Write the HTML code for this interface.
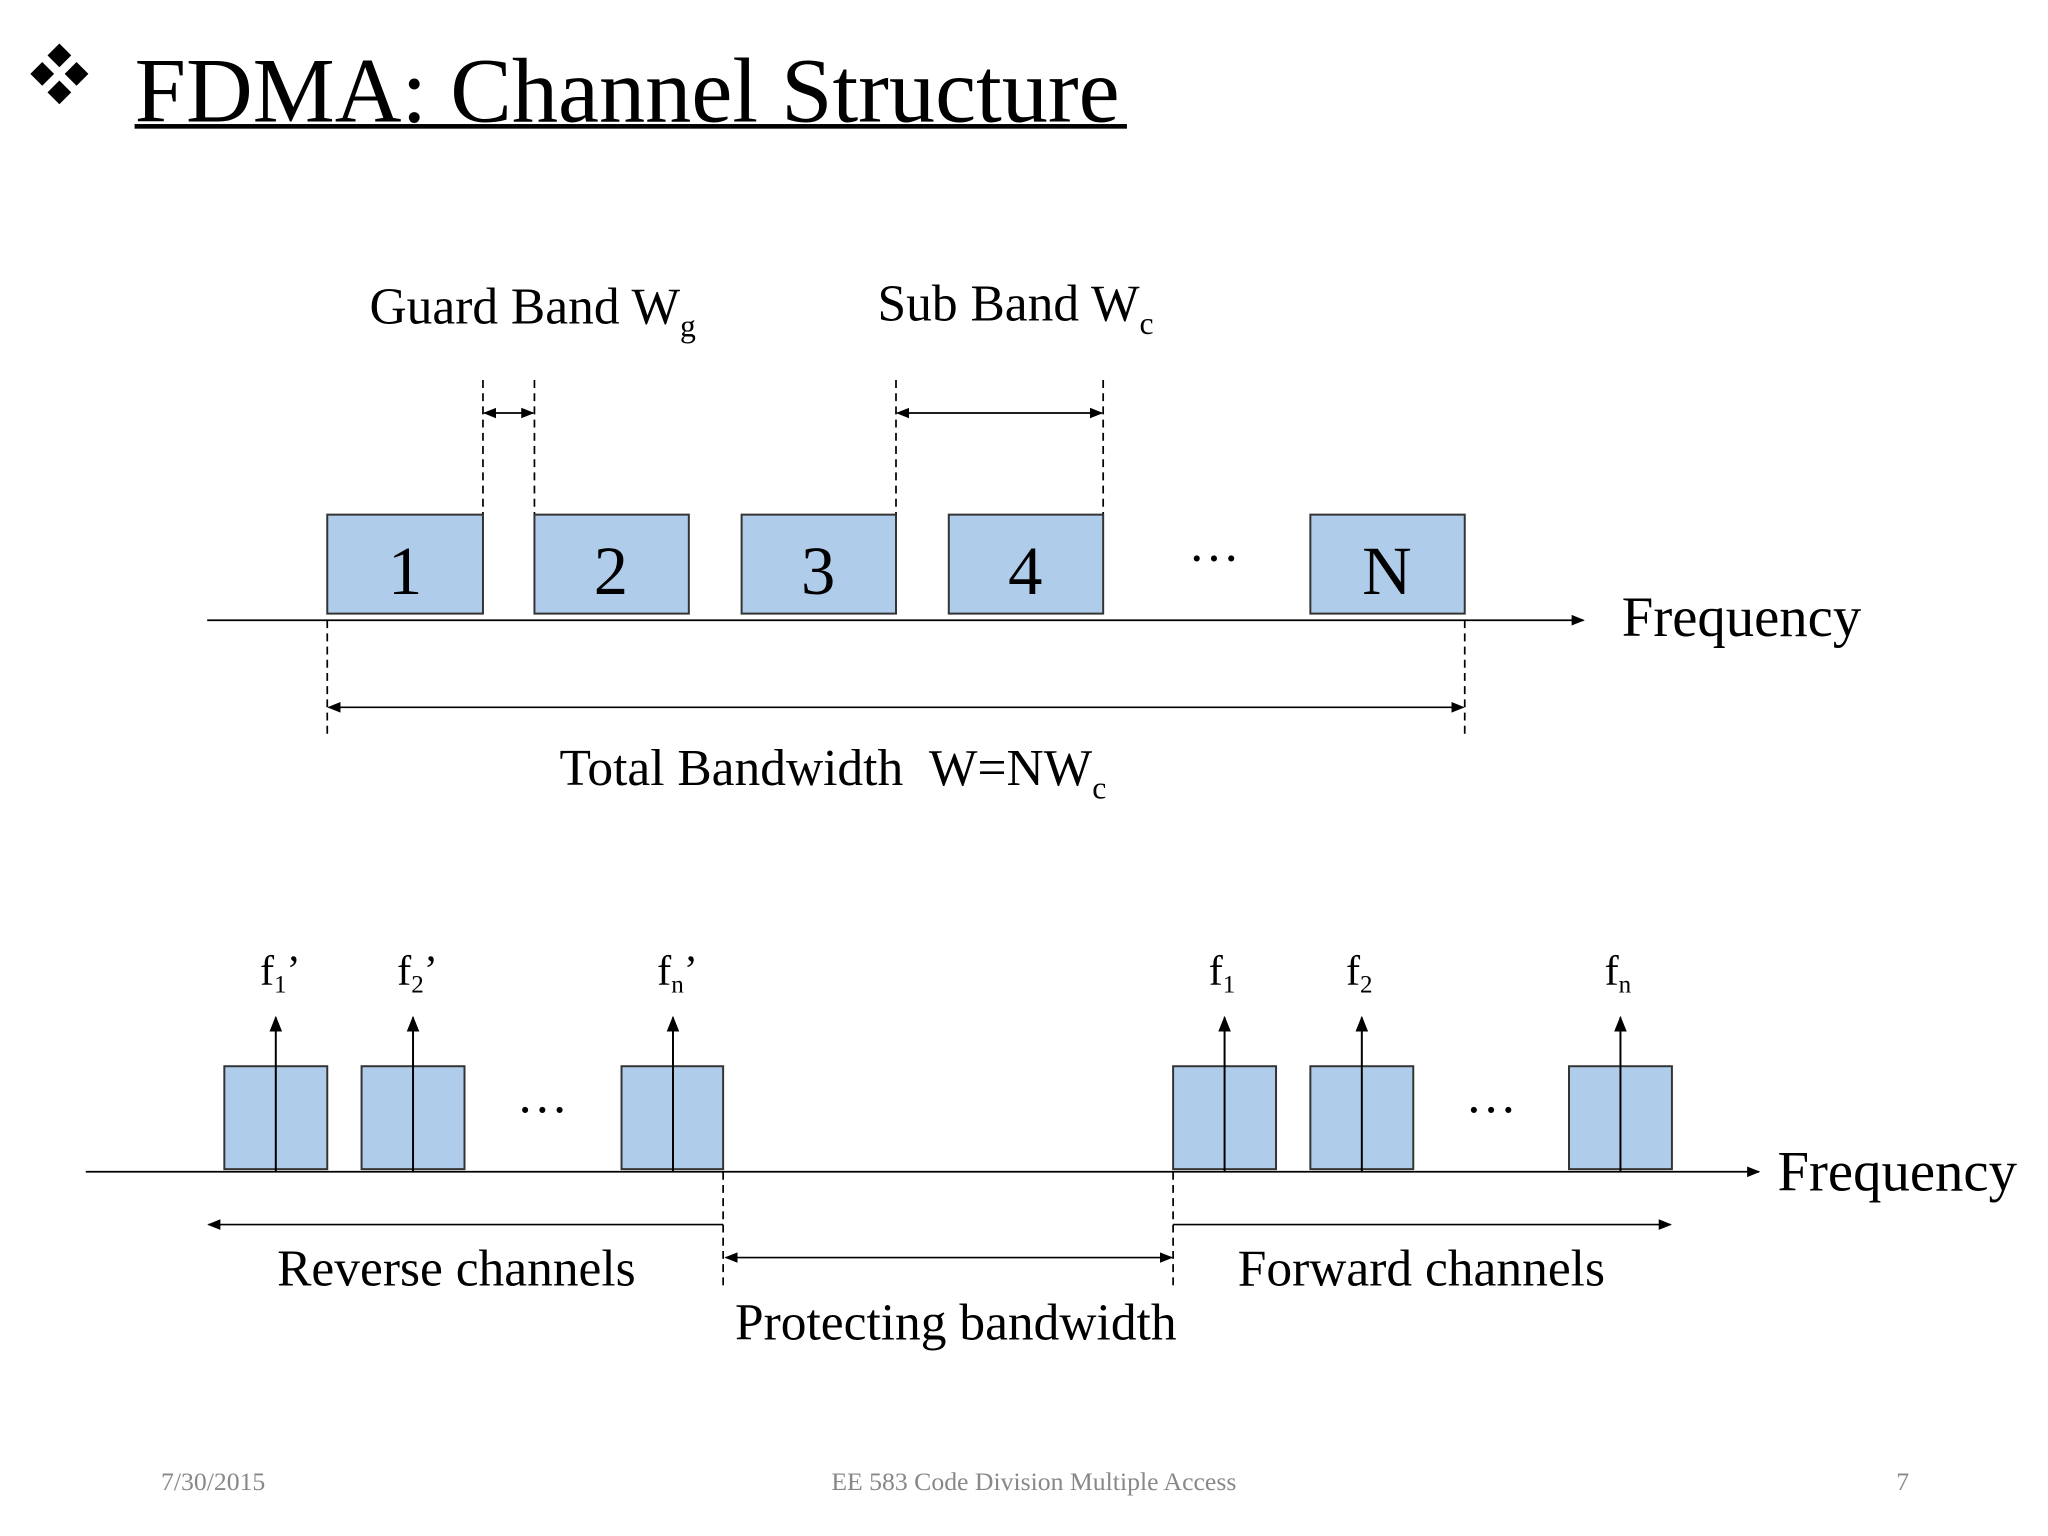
<!DOCTYPE html>
<html><head><meta charset="utf-8"><style>html,body{margin:0;padding:0;background:#fff}svg{display:block}</style></head>
<body>
<svg width="2048" height="1536" viewBox="0 0 1552 1164" xmlns="http://www.w3.org/2000/svg" font-family="Liberation Serif, serif">
<defs>
<marker id="a" viewBox="0 0 10 10" refX="9" refY="5" markerWidth="10" markerHeight="10" markerUnits="userSpaceOnUse" orient="auto-start-reverse"><path d="M0,1 L10,5 L0,9 z" fill="#000"/></marker>
<marker id="b" viewBox="0 0 10 10" refX="9" refY="5" markerWidth="12" markerHeight="12" markerUnits="userSpaceOnUse" orient="auto-start-reverse"><path d="M0,1 L10,5 L0,9 z" fill="#000"/></marker>
</defs>
<rect width="1552" height="1164" fill="#fff"/>
<g fill="#000">
<path d="M45,33 l9,9 l-9,9 l-9,-9z"/><path d="M32,47 l9,9 l-9,9 l-9,-9z"/><path d="M58,47 l9,9 l-9,9 l-9,-9z"/><path d="M45,61 l9,9 l-9,9 l-9,-9z"/>
</g>
<text x="102" y="92" font-size="70">FDMA: Channel Structure</text>
<rect x="102" y="94" width="752" height="3.5" fill="#000"/>

<text x="280" y="245" font-size="39">Guard Band W<tspan font-size="24" dy="10">g</tspan></text>
<text x="665" y="243" font-size="39">Sub Band W<tspan font-size="24" dy="10">c</tspan></text>

<g stroke="#000" stroke-width="1.3" stroke-dasharray="6,4" fill="none">
<line x1="366" y1="288" x2="366" y2="390"/><line x1="405" y1="288" x2="405" y2="390"/>
<line x1="679" y1="288" x2="679" y2="390"/><line x1="836" y1="288" x2="836" y2="390"/>
<line x1="248" y1="470" x2="248" y2="558"/><line x1="1110" y1="470" x2="1110" y2="558"/>
<line x1="548" y1="888" x2="548" y2="978"/><line x1="889" y1="888" x2="889" y2="978"/>
</g>
<g stroke="#000" stroke-width="1.3" fill="none">
<line x1="367" y1="313" x2="404" y2="313" marker-start="url(#a)" marker-end="url(#a)"/>
<line x1="680" y1="313" x2="835" y2="313" marker-start="url(#a)" marker-end="url(#a)"/>
<line x1="249" y1="536" x2="1109" y2="536" marker-start="url(#a)" marker-end="url(#a)"/>
<line x1="157" y1="470" x2="1200" y2="470" marker-end="url(#a)"/>
</g>
<g fill="#afcdea" stroke="#333" stroke-width="1.5">
<rect x="248" y="390" width="118" height="75"/><rect x="405" y="390" width="117" height="75"/>
<rect x="562" y="390" width="117" height="75"/><rect x="719" y="390" width="117" height="75"/>
<rect x="993" y="390" width="117" height="75"/>
</g>
<g font-size="52" text-anchor="middle">
<text x="307" y="450">1</text><text x="463" y="450">2</text><text x="620" y="450">3</text><text x="777" y="450">4</text><text x="1051" y="450">N</text>
</g>
<text x="920" y="425" font-size="39" text-anchor="middle">…</text>
<text x="1229" y="482" font-size="43">Frequency</text>
<text x="424" y="595" font-size="39">Total Bandwidth&#160;&#160;W=NW<tspan font-size="24" dy="10">c</tspan></text>

<line x1="65" y1="888" x2="1333" y2="888" stroke="#000" stroke-width="1.3" marker-end="url(#a)"/>
<g fill="#afcdea" stroke="#333" stroke-width="1.5">
<rect x="170" y="808" width="78" height="78"/><rect x="274" y="808" width="78" height="78"/><rect x="471" y="808" width="77" height="78"/>
<rect x="889" y="808" width="78" height="78"/><rect x="993" y="808" width="78" height="78"/><rect x="1189" y="808" width="78" height="78"/>
</g>
<g stroke="#000" stroke-width="1.5">
<line x1="209" y1="888" x2="209" y2="771" marker-end="url(#b)"/>
<line x1="313" y1="888" x2="313" y2="771" marker-end="url(#b)"/>
<line x1="510" y1="888" x2="510" y2="771" marker-end="url(#b)"/>
<line x1="928" y1="888" x2="928" y2="771" marker-end="url(#b)"/>
<line x1="1032" y1="888" x2="1032" y2="771" marker-end="url(#b)"/>
<line x1="1228" y1="888" x2="1228" y2="771" marker-end="url(#b)"/>
</g>
<g font-size="32">
<text x="197" y="746">f<tspan font-size="19" dy="6">1</tspan><tspan dy="-6">’</tspan></text>
<text x="301" y="746">f<tspan font-size="19" dy="6">2</tspan><tspan dy="-6">’</tspan></text>
<text x="498" y="746">f<tspan font-size="19" dy="6">n</tspan><tspan dy="-6">’</tspan></text>
<text x="916" y="746">f<tspan font-size="19" dy="6">1</tspan></text>
<text x="1020" y="746">f<tspan font-size="19" dy="6">2</tspan></text>
<text x="1216" y="746">f<tspan font-size="19" dy="6">n</tspan></text>
</g>
<text x="411" y="843" font-size="39" text-anchor="middle">…</text>
<text x="1130" y="843" font-size="39" text-anchor="middle">…</text>
<text x="1347" y="902" font-size="43">Frequency</text>
<g stroke="#000" stroke-width="1.3">
<line x1="548" y1="928" x2="158" y2="928" marker-end="url(#a)"/>
<line x1="889" y1="928" x2="1266" y2="928" marker-end="url(#a)"/>
<line x1="550" y1="953" x2="888" y2="953" marker-start="url(#a)" marker-end="url(#a)"/>
</g>
<g font-size="39">
<text x="210" y="974">Reverse channels</text>
<text x="938" y="974">Forward channels</text>
<text x="557" y="1015">Protecting bandwidth</text>
</g>
<g font-size="19.5" fill="#888">
<text x="122" y="1129">7/30/2015</text>
<text x="630" y="1129">EE 583 Code Division Multiple Access</text>
<text x="1437" y="1129">7</text>
</g>
</svg>
</body></html>
